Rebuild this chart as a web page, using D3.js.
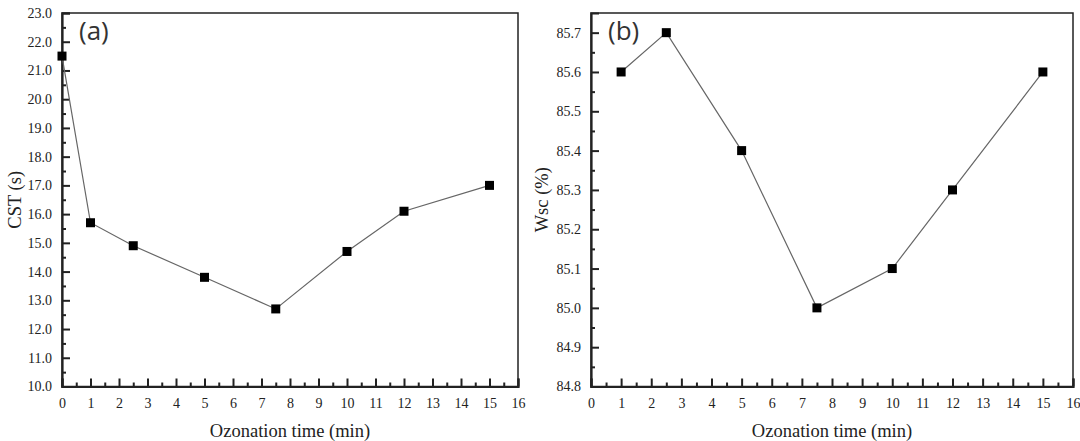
<!DOCTYPE html>
<html>
<head>
<meta charset="utf-8">
<script src="https://cdn.jsdelivr.net/npm/d3@7"></script>
<style>
  body { margin: 0; background: #fff; }
</style>
</head>
<body>
<svg id="chart" width="1080" height="441"></svg>
<script>
// ozonation time (min) and measured values
const timeA = [0, 1, 2.5, 5, 7.5, 10, 12, 15];
const cstValues = [21.5, 15.7, 14.9, 13.8, 12.7, 14.7, 16.1, 17.0];

const timeB = [1, 2.5, 5, 7.5, 10, 12, 15];
const wscValues = [85.6, 85.7, 85.4, 85.0, 85.1, 85.3, 85.6];

const xTicks = d3.range(0, 17, 1);
const cstTicks = d3.range(10, 23.01, 1);
const wscTicks = [84.8, 84.9, 85.0, 85.1, 85.2, 85.3, 85.4, 85.5, 85.6, 85.7];

const serif = 'Liberation Serif';
const svg = d3.select('#chart');

const drawPanel = (cfg) => {
	const x = d3.scaleLinear().domain([0, 16]).range([cfg.left, cfg.right]);
	const y = d3.scaleLinear().domain(cfg.yDomain).range([cfg.bottom, cfg.top]);
	const g = svg.append('g');

	// frame (top/right thinner)
	g.append('rect')
		.attr('x', cfg.left).attr('y', cfg.top)
		.attr('width', cfg.right - cfg.left).attr('height', cfg.bottom - cfg.top)
		.attr('fill', 'none').attr('stroke', '#222').attr('stroke-width', 1.5);

	// x axis, ticks inward
	const xAxis = d3.axisBottom(x).tickValues(xTicks).tickSize(-8).tickPadding(12)
		.tickFormat(d3.format('d'));
	const gx = g.append('g').attr('transform', `translate(0,${cfg.bottom})`).call(xAxis);
	gx.attr('font-family', serif).attr('font-size', 14);
	gx.select('.domain').attr('stroke', '#222').attr('stroke-width', 2.2);
	gx.selectAll('.tick line').attr('stroke', '#222').attr('stroke-width', 2);
	gx.selectAll('.tick text').style('font-family', serif).attr('fill', '#222');
	g.append('g').attr('transform', `translate(0,${cfg.bottom})`)
		.call(d3.axisBottom(x).tickValues(d3.range(0.5, 16, 1)).tickSize(-4).tickFormat(''))
		.call((s) => s.select('.domain').remove())
		.selectAll('.tick line').attr('stroke', '#222').attr('stroke-width', 2);

	// y axis, ticks inward
	const yAxis = d3.axisLeft(y).tickValues(cfg.yTicks).tickSize(-8).tickPadding(10)
		.tickFormat(d3.format('.1f'));
	const gy = g.append('g').attr('transform', `translate(${cfg.left},0)`).call(yAxis);
	gy.attr('font-family', serif).attr('font-size', 14);
	gy.select('.domain').attr('stroke', '#222').attr('stroke-width', 2.2);
	gy.selectAll('.tick line').attr('stroke', '#222').attr('stroke-width', 2);
	gy.selectAll('.tick text').style('font-family', serif).attr('fill', '#222');
	g.append('g').attr('transform', `translate(${cfg.left},0)`)
		.call(d3.axisLeft(y).tickValues(cfg.yMinor).tickSize(-4).tickFormat(''))
		.call((s) => s.select('.domain').remove())
		.selectAll('.tick line').attr('stroke', '#222').attr('stroke-width', 2);

	// line + square markers
	const pts = cfg.xs.map((t, i) => [t, cfg.ys[i]]);
	g.append('path')
		.datum(pts)
		.attr('fill', 'none').attr('stroke', '#666').attr('stroke-width', 1.2)
		.attr('d', d3.line().x((d) => x(d[0])).y((d) => y(d[1])));
	g.selectAll('rect.pt')
		.data(pts)
		.enter()
		.append('rect')
		.attr('class', 'pt')
		.attr('x', (d) => x(d[0]) - 4.5).attr('y', (d) => y(d[1]) - 4.5)
		.attr('width', 9).attr('height', 9)
		.attr('fill', '#000');

	// titles
	g.append('text')
		.style('font-family', serif)
		.attr('x', (cfg.left + cfg.right) / 2).attr('y', 437)
		.attr('text-anchor', 'middle').attr('font-size', 18.5).attr('fill', '#222')
		.text('Ozonation time (min)');
	g.append('text')
		.style('font-family', serif)
		.attr('transform', `translate(${cfg.yTitleX},${(cfg.top + cfg.bottom) / 2}) rotate(-90)`)
		.attr('text-anchor', 'middle').attr('dominant-baseline', 'central')
		.attr('font-size', 18.5).attr('fill', '#222')
		.text(cfg.yTitle);
	g.append('text')
		.attr('x', cfg.left + 17).attr('y', 40)
		.attr('font-size', 26)
		.style('font-family', '"Open Sans", "Noto Sans", sans-serif')
		.attr('fill', '#333')
		.text(cfg.tag);
};

drawPanel({
	left: 62, right: 518, top: 13, bottom: 386.5,
	yDomain: [10, 23], yTicks: cstTicks, yMinor: d3.range(10.5, 23, 1),
	xs: timeA, ys: cstValues,
	yTitle: 'CST (s)', yTitleX: 15, tag: '(a)'
});

drawPanel({
	left: 591, right: 1073, top: 13, bottom: 386.5,
	yDomain: [84.8, 85.75], yTicks: wscTicks,
	yMinor: [84.85, 84.95, 85.05, 85.15, 85.25, 85.35, 85.45, 85.55, 85.65],
	xs: timeB, ys: wscValues,
	yTitle: 'Wsc (%)', yTitleX: 542, tag: '(b)'
});
</script>
</body>
</html>
